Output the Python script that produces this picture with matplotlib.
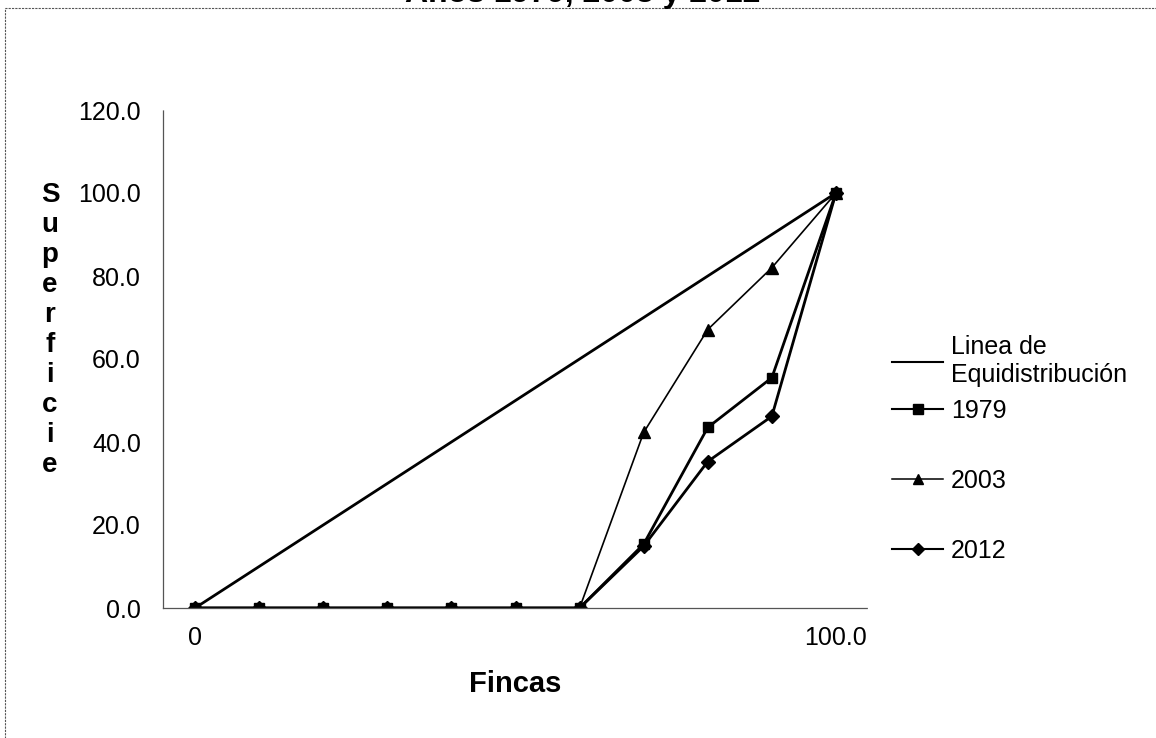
import matplotlib
matplotlib.use("Agg")
import matplotlib.pyplot as plt
from matplotlib.lines import Line2D
from matplotlib.patches import Rectangle

plt.rcParams['font.family'] = ['Liberation Sans', 'DejaVu Sans']

# --- Data ---
fincas = [0, 10, 20, 30, 40, 50, 60, 70, 80, 90, 100]
equidistribucion = [0, 10, 20, 30, 40, 50, 60, 70, 80, 90, 100]
sup_1979 = [0, 0, 0, 0, 0, 0, 0, 15.4, 43.5, 55.5, 100]
sup_2003 = [0, 0, 0, 0, 0, 0, 0, 42.3, 67.1, 82.0, 100]
sup_2012 = [0, 0, 0, 0, 0, 0, 0, 14.9, 35.3, 46.2, 100]
y_ticks = [0, 20, 40, 60, 80, 100, 120]
x_ticks = [0, 100]
x_tick_labels = ['0', '100.0']

W, H = 1156, 738
fig = plt.figure(figsize=(W / 100, H / 100), dpi=100)
ax = fig.add_axes([163 / W, 1 - 608 / H, (868 - 163) / W, (608 - 110) / H])

ax.plot(fincas, equidistribucion, color='black', lw=2.0)
ax.plot(fincas, sup_1979, color='black', lw=2.0, marker='s', ms=7.5)
ax.plot(fincas, sup_2003, color='black', lw=1.2, marker='^', ms=8)
ax.plot(fincas, sup_2012, color='black', lw=2.0, marker='D', ms=7)

ax.set_xlim(-5, 105)
ax.set_ylim(0, 120)
ax.set_yticks(y_ticks)
ax.set_yticklabels([f"{v:.1f}" for v in y_ticks])
ax.set_xticks(x_ticks)
ax.set_xticklabels(x_tick_labels)
ax.tick_params(axis='y', length=0, pad=16, labelsize=18)
ax.tick_params(axis='x', length=0, pad=13, labelsize=18)

for side in ['top', 'right']:
    ax.spines[side].set_visible(False)
for side in ['left', 'bottom']:
    ax.spines[side].set_color('#555555')
    ax.spines[side].set_linewidth(0.9)
    ax.spines[side].set_linestyle((0, (2, 1)))

ax.set_xlabel('Fincas', fontsize=21, fontweight='bold', labelpad=14)

# stacked vertical y label
fig.text(50 / W, 1 - 330 / H, '\n'.join('Superficie'), fontsize=20,
         fontweight='bold', ha='center', va='center', linespacing=1.2)

# title, clipped at the top as in the scan
fig.text(583 / W, 1 - 2 / H, 'Años 1979, 2003 y 2012', fontsize=23,
         fontweight='bold', ha='center', va='baseline')

# chart area border (dashed)
fig.patches.append(Rectangle((5 / W, -0.1), 1.2, 1 - 8 / H + 0.1,
                             transform=fig.transFigure, fill=False,
                             edgecolor='#555555', lw=0.8,
                             linestyle=(0, (2, 1))))

# legends
h_eq = Line2D([], [], color='black', lw=1.5)
leg1 = fig.legend([h_eq], ['Linea de\nEquidistribución'],
                  loc='upper left', bbox_to_anchor=(892 / W, 1 - 335 / H),
                  frameon=False, fontsize=18, handlelength=2.05,
                  handletextpad=0.3, borderpad=0, borderaxespad=0)
h79 = Line2D([], [], color='black', lw=1.5, marker='s', ms=7)
h03 = Line2D([], [], color='black', lw=1.1, marker='^', ms=7)
h12 = Line2D([], [], color='black', lw=1.5, marker='D', ms=6.5)
leg2 = fig.legend([h79, h03, h12], ['1979', '2003', '2012'],
                  loc='upper left', bbox_to_anchor=(892 / W, 1 - 399 / H),
                  frameon=False, fontsize=18, handlelength=2.05,
                  handletextpad=0.3, labelspacing=1.83,
                  borderpad=0, borderaxespad=0)

fig.savefig('out.png', dpi=100)
